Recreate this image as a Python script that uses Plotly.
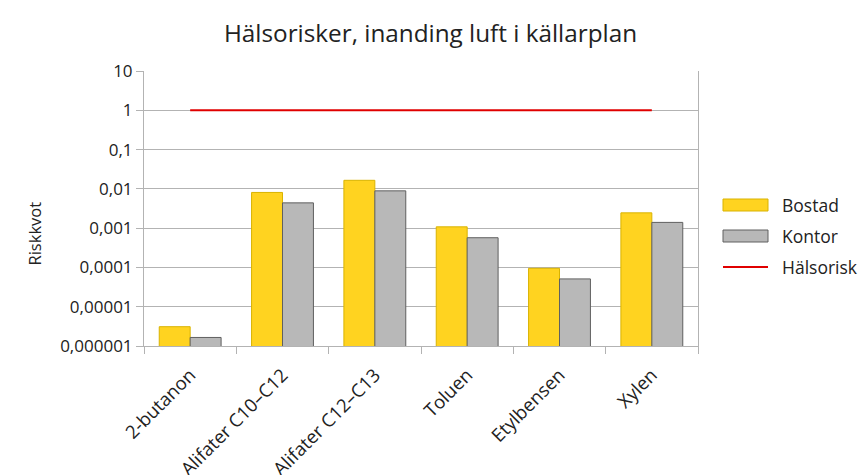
import plotly.graph_objects as go

categories = ["2-butanon", "Alifater C10–C12", "Alifater C12–C13", "Toluen", "Etylbensen", "Xylen"]
bostad = [3.1e-6, 0.0081, 0.0165, 0.00108, 9.5e-5, 0.00245]
kontor = [1.65e-6, 0.0044, 0.0089, 0.00057, 5.1e-5, 0.0014]
halsorisk = [1, 1, 1, 1, 1, 1]
tick_vals = [1e-6, 1e-5, 1e-4, 1e-3, 1e-2, 1e-1, 1, 10]
tick_text = ["0,000001", "0,00001", "0,0001", "0,001", "0,01", "0,1", "1", "10"]
series_names = ["Bostad", "Kontor", "Hälsorisk"]

FONT = "Open Sans"
W, H = 861, 475
L, R, T, B = 144, 163, 71, 129
PW, PH = W - L - R, H - T - B

YELLOW, YELLOW_EDGE = "#FFD320", "#D9B300"
GRAY, GRAY_EDGE = "#B8B8B8", "#606060"
RED = "#E00000"


def px(x):
    return (x - L) / PW


def py(y):
    return (H - B - y) / PH


fig = go.Figure()
fig.add_trace(go.Bar(x=categories, y=bostad, name=series_names[0],
                     marker=dict(color=YELLOW, line=dict(color=YELLOW_EDGE, width=1))))
fig.add_trace(go.Bar(x=categories, y=kontor, name=series_names[1],
                     marker=dict(color=GRAY, line=dict(color=GRAY_EDGE, width=1))))
fig.add_trace(go.Scatter(x=categories, y=halsorisk, name=series_names[2], mode="lines",
                         line=dict(color=RED, width=2)))

fig.update_layout(
    width=W, height=H,
    margin=dict(l=L, r=R, t=T, b=B, autoexpand=False),
    paper_bgcolor="white", plot_bgcolor="white",
    font=dict(family=FONT, size=16, color="#222"),
    title=dict(text="Hälsorisker, inanding luft i källarplan", x=0.5, xanchor="center",
               y=1 - 33 / H, yanchor="middle", font=dict(size=24.3, family=FONT, color="#222")),
    barmode="group", bargap=0.33, bargroupgap=0,
    showlegend=False,
)
fig.update_yaxes(type="log", range=[-6, 1], tickvals=tick_vals, ticktext=tick_text,
                 automargin=False,
                 showgrid=True, gridcolor="#B3B3B3", gridwidth=1,
                 showline=True, linecolor="#B3B3B3", linewidth=1, mirror=True,
                 ticks="outside", ticklen=7, tickcolor="#B3B3B3",
                 tickfont=dict(size=17, family=FONT, color="#222"), zeroline=False)
fig.update_xaxes(type="category", tickson="boundaries", ticks="outside", ticklen=7,
                 automargin=False, ticklabelstandoff=10,
                 tickcolor="#B3B3B3", showline=True, linecolor="#B3B3B3", linewidth=1,
                 tickangle=-45, tickfont=dict(size=18.5, family=FONT, color="#222"),
                 showgrid=False)

# y-axis title
fig.add_annotation(text="Riskkvot", textangle=-90, x=px(20), y=py(268), xref="paper", yref="paper",
                   showarrow=False, font=dict(size=16.5, family=FONT, color="#222"))

# custom legend
leg_y = [205, 236, 267]
for i, name in enumerate(series_names):
    yc = leg_y[i]
    if i < 2:
        fill, edge = (YELLOW, YELLOW_EDGE) if i == 0 else (GRAY, GRAY_EDGE)
        fig.add_shape(type="rect", xref="paper", yref="paper",
                      x0=px(723), x1=px(768), y0=py(yc + 6), y1=py(yc - 6),
                      fillcolor=fill, line=dict(color=edge, width=1))
    else:
        fig.add_shape(type="line", xref="paper", yref="paper",
                      x0=px(723), x1=px(768), y0=py(yc), y1=py(yc),
                      line=dict(color=RED, width=2))
    fig.add_annotation(text=name, x=px(780), y=py(yc), xref="paper", yref="paper",
                       xanchor="left", yanchor="middle", showarrow=False,
                       font=dict(size=17.5, family=FONT, color="#222"))

fig.write_html("out.html", config={"displayModeBar": False},
               post_script="document.body.style.margin='0px';document.body.style.overflow='hidden';")
